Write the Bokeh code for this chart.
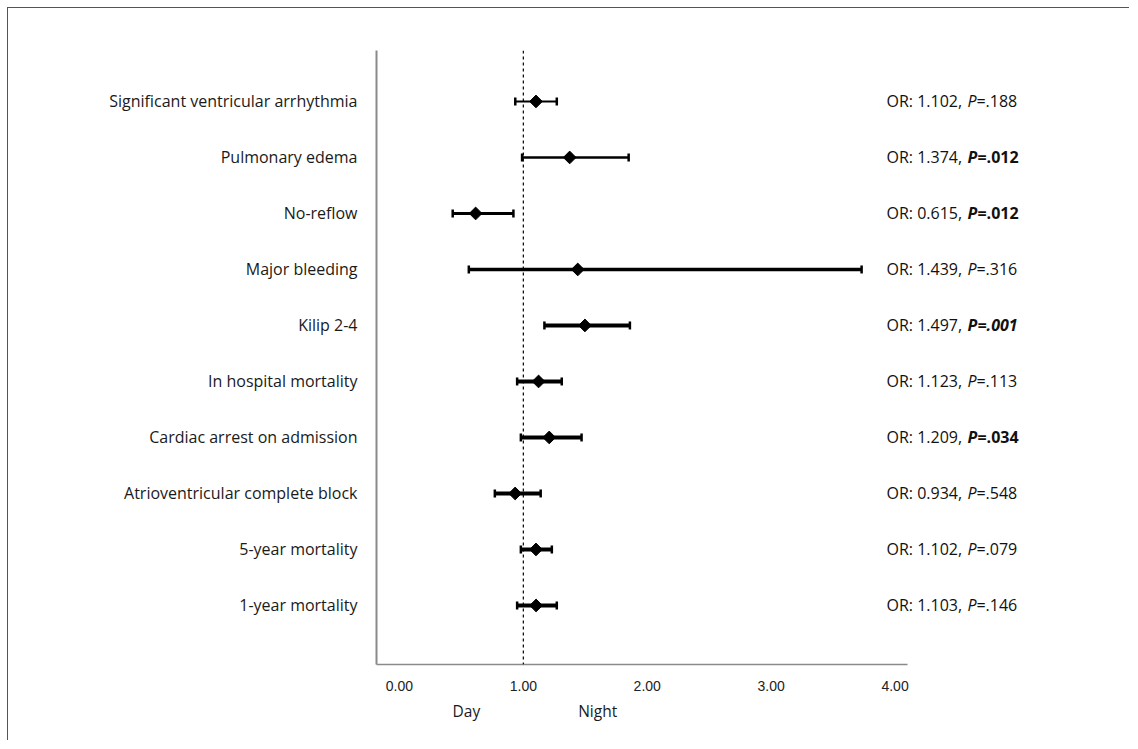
import math
from bokeh.plotting import figure
from bokeh.models import (ColumnDataSource, Range1d, FixedTicker, Span, LabelSet, LinearAxis)
from bokeh.core.properties import value
from bokeh.embed import file_html
from bokeh.resources import INLINE

# ---------------- data ----------------
categories = ["Significant ventricular arrhythmia", "Pulmonary edema", "No-reflow",
              "Major bleeding", "Kilip 2-4", "In hospital mortality",
              "Cardiac arrest on admission", "Atrioventricular complete block",
              "5-year mortality", "1-year mortality"]
odds_ratio = [1.102, 1.374, 0.615, 1.439, 1.497, 1.123, 1.209, 0.934, 1.102, 1.103]
ci_low = [0.935, 0.99, 0.43, 0.56, 1.17, 0.95, 0.98, 0.77, 0.98, 0.95]
ci_high = [1.27, 1.85, 0.92, 3.73, 1.86, 1.31, 1.47, 1.14, 1.23, 1.27]
p_values = [".188", ".012", ".012", ".316", ".001", ".113", ".034", ".548", ".079", ".146"]
significant = [False, True, True, False, True, False, True, False, False, False]
x_ticks = [0, 1, 2, 3, 4]
x_tick_labels = ["0.00", "1.00", "2.00", "3.00", "4.00"]
group_ticks = [0.54, 1.6]
group_labels = ["Day", "Night"]

# ---------------- style ----------------
bar_widths = [2, 2.5, 3, 3.5, 4, 4, 4, 4, 4, 4]
FONT = "Open Sans"
FS = "16px"
n = len(categories)
ys = [n - i for i in range(n)]

src = ColumnDataSource(dict(y=ys, orv=odds_ratio, lo=ci_low, hi=ci_high, lw=bar_widths))

X0, AXIS_END, X_END = -0.185, 4.10, 5.9
p = figure(width=1122, height=733, output_backend="svg", toolbar_location=None,
           x_range=Range1d(X0, X_END), y_range=Range1d(-0.054, 10.91),
           min_border_left=368, min_border_right=0, min_border_top=42, min_border_bottom=77)
p.styles = {"border-top": "1px solid #555", "border-left": "1px solid #555",
            "margin-top": "7px", "margin-left": "7px"}
p.outline_line_color = None
p.xgrid.visible = False
p.ygrid.visible = False

# axes
p.xaxis.ticker = FixedTicker(ticks=x_ticks)
p.xaxis.major_label_overrides = {t: l for t, l in zip(x_ticks, x_tick_labels)}
p.xaxis.bounds = (X0, AXIS_END)
p.xaxis.axis_line_color = "#8a8a8a"
p.xaxis.axis_line_width = 1.5
p.xaxis.major_tick_line_color = None
p.xaxis.minor_tick_line_color = None
p.xaxis.major_label_standoff = 10
p.xaxis.major_label_text_font = "Liberation Sans"
p.xaxis.major_label_text_font_size = "14px"
p.xaxis.major_label_text_color = "#222222"

gaxis = LinearAxis(ticker=FixedTicker(ticks=group_ticks),
                   major_label_overrides={t: l for t, l in zip(group_ticks, group_labels)},
                   axis_line_color=None, major_tick_line_color=None, minor_tick_line_color=None,
                   major_label_standoff=0, major_label_text_font=FONT,
                   major_label_text_font_size="15.5px", major_label_text_color="#1a1a1a")
p.add_layout(gaxis, "below")

p.yaxis.ticker = FixedTicker(ticks=ys)
p.yaxis.major_label_overrides = {y: c for y, c in zip(ys, categories)}
p.yaxis.axis_line_color = "#8a8a8a"
p.yaxis.axis_line_width = 2
p.yaxis.major_tick_line_color = None
p.yaxis.minor_tick_line_color = None
p.yaxis.major_label_standoff = 13
p.yaxis.major_label_text_font = FONT
p.yaxis.major_label_text_font_size = FS
p.yaxis.major_label_text_color = "#1a1a1a"

# reference line
p.add_layout(Span(location=1, dimension="height", line_color="black", line_width=1.2,
                  line_dash="3 3"))

# CI bars
p.segment(x0="lo", y0="y", x1="hi", y1="y", line_width="lw", line_color="black", source=src)
p.scatter(x="lo", y="y", marker="dash", angle=math.pi / 2, size=8, line_width=2.5,
          line_color="black", source=src)
p.scatter(x="hi", y="y", marker="dash", angle=math.pi / 2, size=8, line_width=2.5,
          line_color="black", source=src)
p.scatter(x="orv", y="y", marker="square", angle=math.pi / 4, size=9, fill_color="black",
          line_color="black", line_width=1, source=src)

# right-hand texts
def labelset(x_off, rows, texts, style):
    s = ColumnDataSource(dict(y=[ys[i] for i in rows], t=texts))
    p.add_layout(LabelSet(x=AXIS_END, y="y", text="t", source=s, x_offset=x_off,
                          text_align="left", text_baseline="middle", text_font=value(FONT),
                          text_font_size=value(FS), text_color="#111111",
                          text_font_style=value(style)))

all_rows = list(range(n))
labelset(-21, all_rows, ["OR: %.3f," % v for v in odds_ratio], "normal")
ns = [i for i in all_rows if not significant[i]]
sg = [i for i in all_rows if significant[i] and p_values[i] != ".001"]
hs = [i for i in all_rows if significant[i] and p_values[i] == ".001"]
labelset(60, ns, ["P" for _ in ns], "italic")
labelset(60, sg + hs, ["P" for _ in sg + hs], "bold italic")
labelset(69, ns, ["=" + p_values[i] for i in ns], "normal")
labelset(70, sg, ["=" + p_values[i] for i in sg], "bold")
labelset(70, hs, ["=" + p_values[i] for i in hs], "bold italic")

open("out.html", "w").write(file_html(p, INLINE))
